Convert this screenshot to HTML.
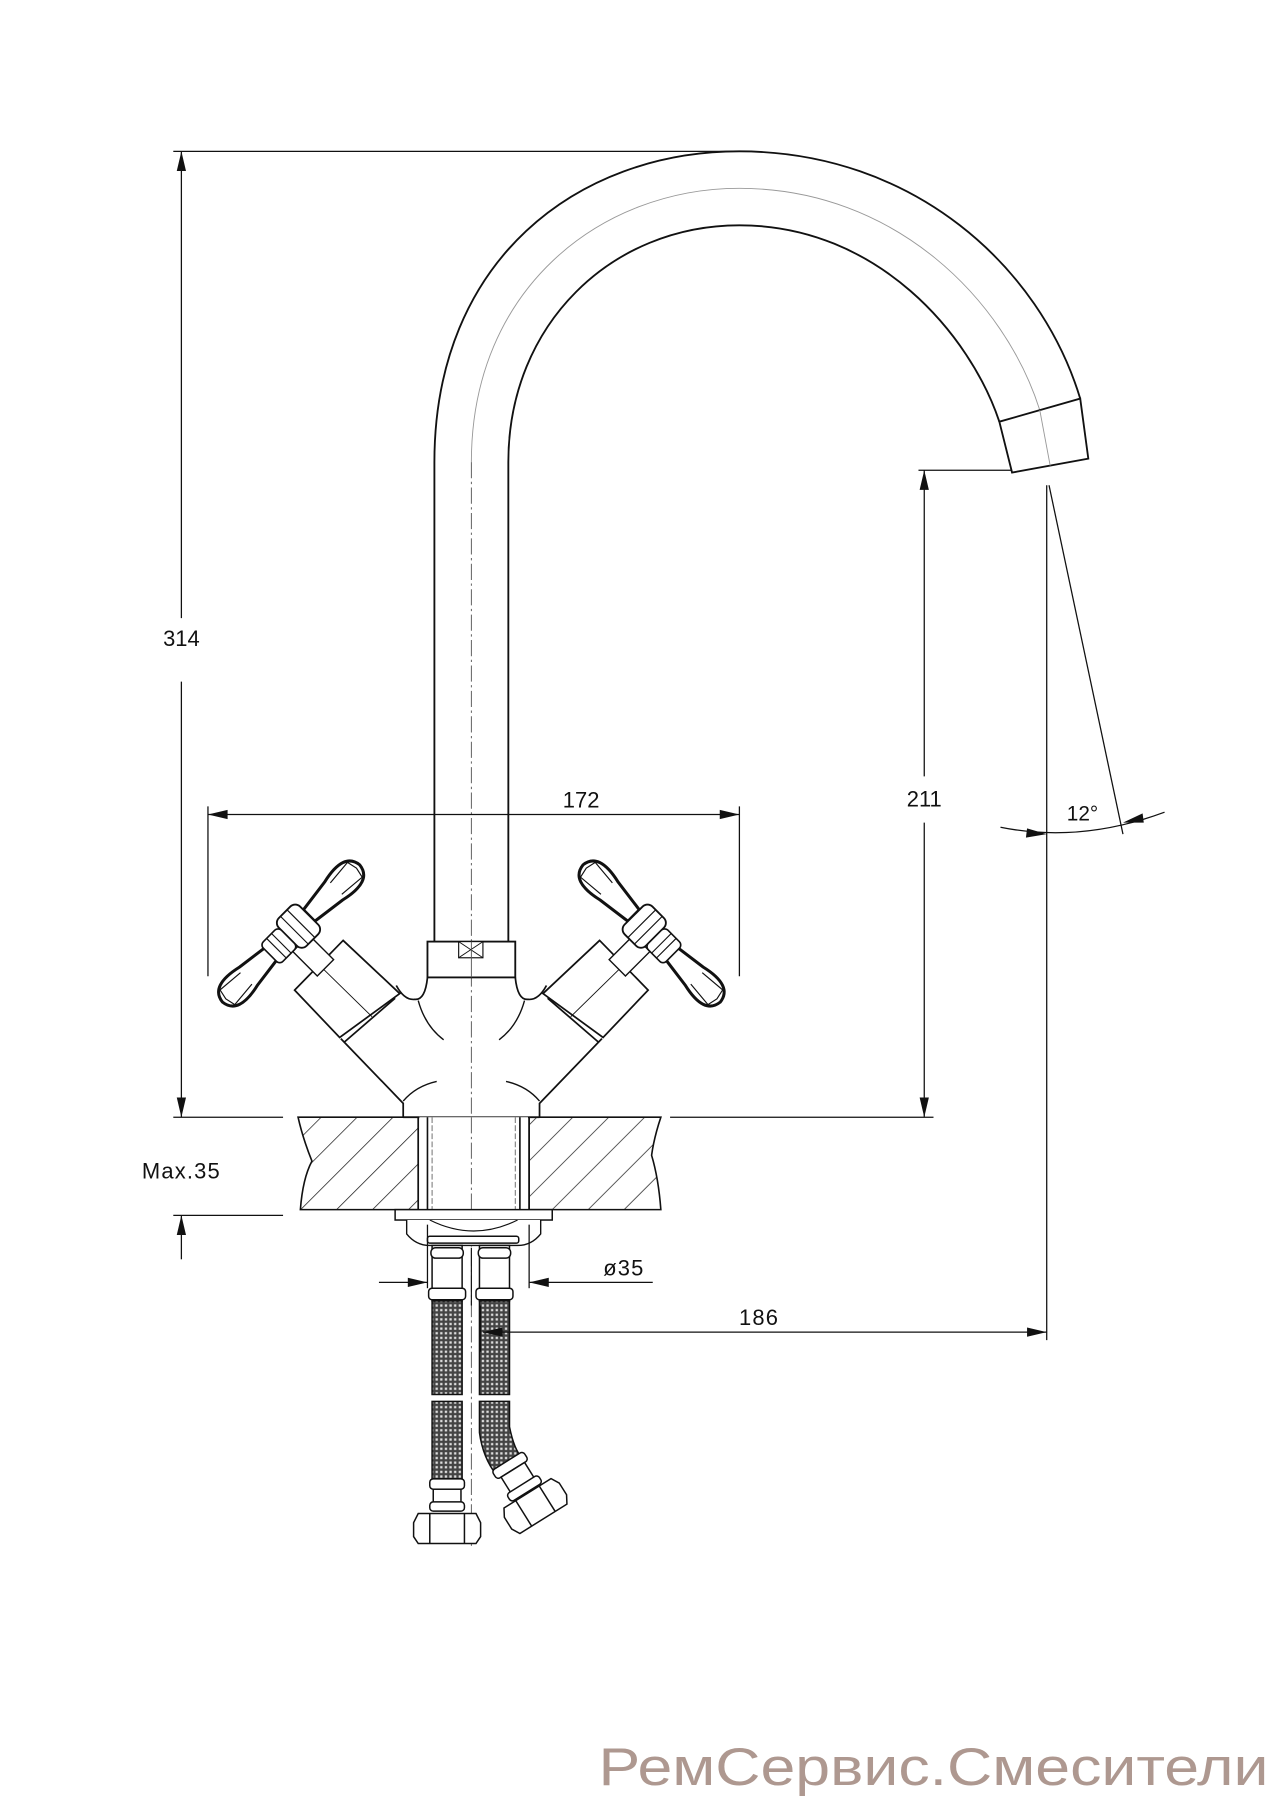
<!DOCTYPE html>
<html><head><meta charset="utf-8"><style>
html,body{margin:0;padding:0;background:#fff;}
svg{display:block;}
text{font-family:"Liberation Sans",sans-serif;fill:#111;}
</style></head><body>
<svg width="1272" height="1800" viewBox="0 0 1101 1558" preserveAspectRatio="none" xmlns="http://www.w3.org/2000/svg">
<defs>
<pattern id="hatch" width="22" height="22" patternUnits="userSpaceOnUse" patternTransform="rotate(45)">
<line x1="0" y1="0" x2="0" y2="22" stroke="#222" stroke-width="1.3"/>
</pattern>
<pattern id="braid" width="4" height="4" patternUnits="userSpaceOnUse">
<rect width="4" height="4" fill="#444"/>
<rect x="1" y="1" width="2" height="2" fill="#ddd"/>
</pattern>
<g id="valve">
<polygon points="297,814 346,860 294,898 255,857" fill="#fff" stroke="#111" stroke-width="1.5"/>
<line x1="342" y1="864" x2="298" y2="902" stroke="#111" stroke-width="1.5"/>
<line x1="276" y1="835" x2="322" y2="880" stroke="#111" stroke-width="0.8"/>
<g transform="translate(252,808) rotate(-45)">
<rect x="-10" y="12" width="20" height="30" fill="#fff" stroke="#111" stroke-width="1.2"/>
<path d="M22,-7 L52,-11 Q82,-18 84,0 Q82,18 52,11 L22,7 Z" fill="#fff" stroke="#111" stroke-width="2.6"/>
<path d="M55,-7 L78,-9 L80,0 L78,9 L55,7" fill="none" stroke="#111" stroke-width="1"/>
<path d="M-22,-7 L-52,-11 Q-82,-18 -84,0 Q-82,18 -52,11 L-22,7 Z" fill="#fff" stroke="#111" stroke-width="2.6"/>
<path d="M-55,-7 L-78,-9 L-80,0 L-78,9 L-55,7" fill="none" stroke="#111" stroke-width="1"/>
<rect x="-4" y="-17" width="26" height="34" rx="6" fill="#fff" stroke="#111" stroke-width="1.6"/>
<line x1="4" y1="-17" x2="4" y2="17" stroke="#111" stroke-width="1"/>
<line x1="12" y1="-17" x2="12" y2="17" stroke="#111" stroke-width="1"/>
<rect x="-26" y="-12" width="22" height="24" rx="4" fill="#fff" stroke="#111" stroke-width="1.4"/>
<line x1="-18" y1="-12" x2="-18" y2="12" stroke="#111" stroke-width="1"/>
<line x1="-12" y1="-12" x2="-12" y2="12" stroke="#111" stroke-width="1"/>
</g>
<path d="M370,846 Q368,866 359,865 Q350,866 343,853" fill="none" stroke="#111" stroke-width="1.5"/>
<path d="M295,899 L349,955 L349,967" fill="none" stroke="#111" stroke-width="1.5"/>
<path d="M362,866 Q368,888 384,900" fill="none" stroke="#111" stroke-width="1.2"/>
<path d="M349,953 Q360,940 378,936" fill="none" stroke="#111" stroke-width="1.2"/>
</g>
</defs>

<path d="M376,815 L376,400 C376,225 500,131 640,131 C790,131 900,230 935,345" fill="none" stroke="#111" stroke-width="1.6"/>
<path d="M440,815 L440,400 C440,280 530,195 640,195 C760,195 840,290 865,365" fill="none" stroke="#111" stroke-width="1.6"/>
<path d="M408,400 C408,250 520,163 640,163 C775,163 870,260 900,355" fill="none" stroke="#999" stroke-width="0.8"/>
<polygon points="865,365 935,345 942,397 876,409" fill="#fff" stroke="#111" stroke-width="1.6"/>
<line x1="900" y1="355" x2="909" y2="403" stroke="#999" stroke-width="0.8"/>
<line x1="408" y1="400" x2="408" y2="1340" stroke="#555" stroke-width="0.8" stroke-dasharray="14,3,2,3"/>

<rect x="370" y="815" width="76" height="31" fill="#fff" stroke="#111" stroke-width="1.6"/>
<rect x="397" y="815" width="21" height="14" fill="#fff" stroke="#111" stroke-width="1"/>
<line x1="397" y1="815" x2="418" y2="829" stroke="#111" stroke-width="0.8"/>
<line x1="418" y1="815" x2="397" y2="829" stroke="#111" stroke-width="0.8"/>
<line x1="408" y1="815" x2="408" y2="846" stroke="#555" stroke-width="0.8"/>

<use href="#valve"/>
<use href="#valve" transform="translate(816,0) scale(-1,1)"/>
<line x1="349" y1="967" x2="467" y2="967" stroke="#111" stroke-width="1.5"/>

<path d="M258,967 L362,967 L362,1047 L260,1047 Q262,1020 270,1005 Q262,985 258,967 Z" fill="url(#hatch)" stroke="#111" stroke-width="1.4"/>
<path d="M458,967 L572,967 Q566,985 564,1000 Q570,1020 572,1047 L458,1047 Z" fill="url(#hatch)" stroke="#111" stroke-width="1.4"/>
<rect x="363" y="967" width="94" height="80" fill="#fff"/>
<line x1="362" y1="967" x2="362" y2="1047" stroke="#111" stroke-width="1.4"/>
<line x1="370" y1="967" x2="370" y2="1047" stroke="#111" stroke-width="1.4"/>
<line x1="450" y1="967" x2="450" y2="1047" stroke="#111" stroke-width="1.4"/>
<line x1="458" y1="967" x2="458" y2="1047" stroke="#111" stroke-width="1.4"/>
<line x1="374" y1="967" x2="374" y2="1047" stroke="#666" stroke-width="0.8" stroke-dasharray="5,2"/>
<line x1="446" y1="967" x2="446" y2="1047" stroke="#666" stroke-width="0.8" stroke-dasharray="5,2"/>
<line x1="408" y1="967" x2="408" y2="1047" stroke="#555" stroke-width="0.8" stroke-dasharray="14,3,2,3"/>
<rect x="342" y="1047" width="136" height="9" fill="#fff" stroke="#111" stroke-width="1.3"/>
<path d="M352,1056 L352,1068 Q360,1078 372,1078 L448,1078 Q460,1078 468,1068 L468,1056" fill="#fff" stroke="#111" stroke-width="1.2"/>
<path d="M372,1056 Q410,1075 448,1056" fill="none" stroke="#111" stroke-width="1"/>

<g stroke="#111" stroke-width="1.3" fill="#fff">
<rect x="370" y="1070" width="79" height="6" rx="2"/>
<rect x="374" y="1078" width="26" height="48"/>
<rect x="373" y="1080" width="28" height="9" rx="4"/>
<rect x="371" y="1115" width="32" height="10" rx="3"/>
<rect x="415" y="1078" width="26" height="48"/>
<rect x="414" y="1080" width="28" height="9" rx="4"/>
<rect x="412" y="1115" width="32" height="10" rx="3"/>
<rect x="374" y="1126" width="26" height="81" fill="url(#braid)"/>
<rect x="374" y="1213" width="26" height="67" fill="url(#braid)"/>
<rect x="415" y="1126" width="26" height="81" fill="url(#braid)"/>
<path d="M415,1213 L441,1213 L441,1235 Q445,1255 452,1262 L430,1277 Q418,1262 415,1240 Z" fill="url(#braid)"/>
<rect x="372" y="1280" width="30" height="9" rx="3"/>
<rect x="375" y="1289" width="24" height="18"/>
<rect x="372" y="1300" width="30" height="8" rx="3"/>
<path d="M362,1310 L412,1310 L416,1318 L416,1330 L412,1336 L362,1336 L358,1330 L358,1318 Z"/>
<line x1="372" y1="1310" x2="372" y2="1336"/>
<line x1="402" y1="1310" x2="402" y2="1336"/>
<g transform="translate(455,1290) rotate(-32)">
<rect x="-16" y="-30" width="32" height="9" rx="3"/>
<rect x="-12" y="-21" width="24" height="18"/>
<rect x="-16" y="-6" width="32" height="8" rx="3"/>
<path d="M-24,3 L24,3 L28,10 L28,22 L24,29 L-24,29 L-28,22 L-28,10 Z"/>
<line x1="-12" y1="3" x2="-12" y2="29"/>
<line x1="12" y1="3" x2="12" y2="29"/>
</g>
</g>
<line x1="408" y1="1080" x2="408" y2="1130" stroke="#111" stroke-width="1"/>

<g stroke="#111" stroke-width="1.1" fill="none">
<line x1="150" y1="131" x2="640" y2="131"/>
<line x1="157" y1="131" x2="157" y2="535"/>
<line x1="157" y1="590" x2="157" y2="967"/>
<line x1="150" y1="967" x2="245" y2="967"/>
<line x1="580" y1="967" x2="808" y2="967"/>
<line x1="150" y1="1052" x2="245" y2="1052"/>
<line x1="157" y1="1052" x2="157" y2="1090"/>
<line x1="180" y1="698" x2="180" y2="845"/>
<line x1="640" y1="698" x2="640" y2="845"/>
<line x1="180" y1="705" x2="640" y2="705"/>
<line x1="795" y1="407" x2="875" y2="407"/>
<line x1="800" y1="407" x2="800" y2="672"/>
<line x1="800" y1="712" x2="800" y2="967"/>
<line x1="906" y1="420" x2="906" y2="1160"/>
<line x1="908" y1="420" x2="972" y2="722"/>
<path d="M866,716 Q935,730 1008,703"/>
<line x1="370" y1="1060" x2="370" y2="1115"/>
<line x1="458" y1="1060" x2="458" y2="1115"/>
<line x1="328" y1="1110" x2="370" y2="1110"/>
<line x1="458" y1="1110" x2="565" y2="1110"/>
<line x1="418" y1="1153" x2="906" y2="1153"/>
<line x1="416" y1="1130" x2="416" y2="1170"/>
</g>
<g fill="#111">
<polygon points="157,131 153,148 161,148"/>
<polygon points="157,967 153,950 161,950"/>
<polygon points="157,1052 153,1069 161,1069"/>
<polygon points="180,705 197,701 197,709"/>
<polygon points="640,705 623,701 623,709"/>
<polygon points="800,407 796,424 804,424"/>
<polygon points="800,967 796,950 804,950"/>
<polygon points="906,722 889,717 888,725"/>
<polygon points="972,712 989,704 990,712"/>
<polygon points="370,1110 353,1106 353,1114"/>
<polygon points="458,1110 475,1106 475,1114"/>
<polygon points="418,1153 435,1149 435,1157"/>
<polygon points="906,1153 889,1149 889,1157"/>
</g>
<g font-size="19">
<text x="157" y="559" text-anchor="middle">314</text>
<text x="503" y="699" text-anchor="middle">172</text>
<text x="800" y="698" text-anchor="middle">211</text>
<text x="937" y="710" text-anchor="middle" font-size="18">12°</text>
<text x="157" y="1020" text-anchor="middle" letter-spacing="1">Max.35</text>
<text x="540" y="1104" text-anchor="middle" letter-spacing="1">ø35</text>
<text x="657" y="1147" text-anchor="middle" letter-spacing="1">186</text>
</g>
<text x="518" y="1545" font-size="46" style="fill:#ae9890" textLength="580" lengthAdjust="spacingAndGlyphs">РемСервис.Смесители</text>
</svg>
</body></html>
